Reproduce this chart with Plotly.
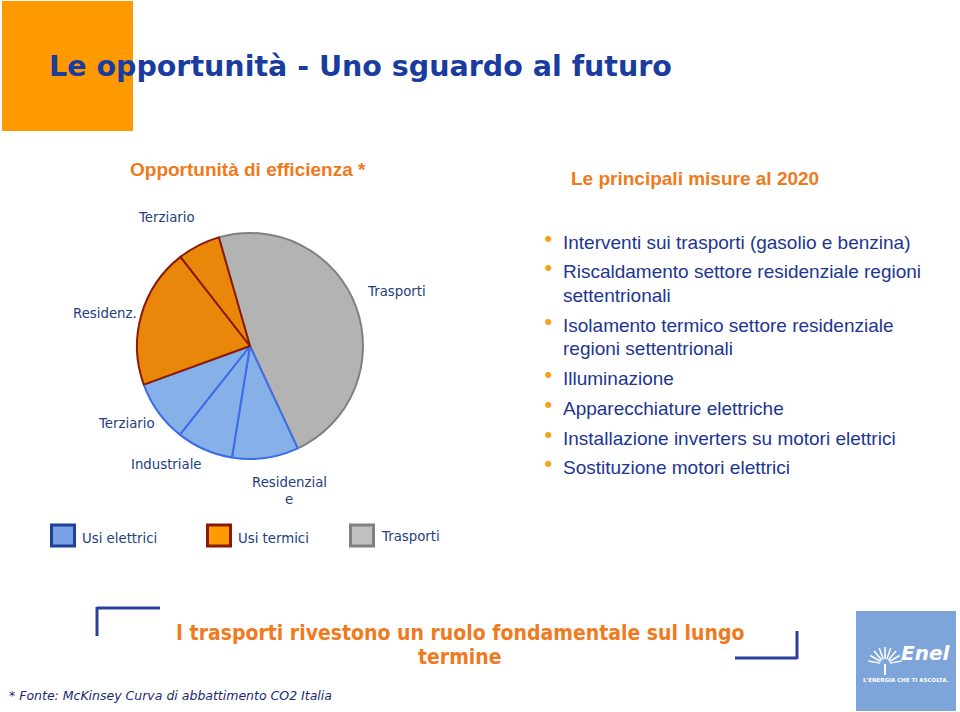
import plotly.graph_objects as go
import math

W, H = 960, 712

# ---- data ----
slice_ids = ["Trasporti", "Residenziale (el.)", "Industriale (el.)", "Terziario (el.)",
             "Residenz. (term.)", "Terziario (term.)"]
slice_labels = ["Trasporti", "Residenzial<br>e", "Industriale", "Terziario", "Residenz.", "Terziario"]
slice_groups = ["Trasporti", "Usi elettrici", "Usi elettrici", "Usi elettrici", "Usi termici", "Usi termici"]
slice_values = [47.5, 9.5, 8.1, 8.8, 20.0, 6.1]

legend_items = ["Usi elettrici", "Usi termici", "Trasporti"]

measures = [
    ["Interventi sui trasporti (gasolio e benzina)"],
    ["Riscaldamento settore residenziale regioni", "settentrionali"],
    ["Isolamento termico settore residenziale", "regioni settentrionali"],
    ["Illuminazione"],
    ["Apparecchiature elettriche"],
    ["Installazione inverters su motori elettrici"],
    ["Sostituzione motori elettrici"],
]

# ---- styles ----
fill = {"Usi elettrici": "#86b0e8", "Usi termici": "#ea860a", "Trasporti": "#b3b3b3"}
edge = {"Usi elettrici": "#3d6ce8", "Usi termici": "#8a1a05", "Trasporti": "#808080"}
legend_edge = {"Usi elettrici": "#1f3f9a", "Usi termici": "#8a1a05", "Trasporti": "#808080"}
legend_fill = {"Usi elettrici": "#7aa2e6", "Usi termici": "#ff9a00", "Trasporti": "#c0c0c0"}

NAVY = "#24407e"
ORANGE = "#ee7a1c"

def px(x):
    return x / W

def py(y):
    return 1 - y / H

fig = go.Figure()

cx, cy, r = 250, 346, 113
fig.add_trace(go.Pie(
    labels=slice_ids,
    values=slice_values,
    sort=False,
    direction="clockwise",
    rotation=-16,
    textinfo="none",
    hoverinfo="skip",
    showlegend=False,
    marker=dict(colors=[fill[g] for g in slice_groups],
                line=dict(color=[edge[g] for g in slice_groups], width=2)),
    domain=dict(x=[px(cx - r), px(cx + r)], y=[py(cy + r), py(cy - r)]),
))

annotations = []
shapes = []

def text(x, y, s, size, color, family="DejaVu Sans", xanchor="left", bold=False, italic=False, yanchor="middle"):
    if bold:
        s = "<b>" + s + "</b>"
    if italic:
        s = "<i>" + s + "</i>"
    annotations.append(dict(x=px(x), y=py(y), xref="paper", yref="paper", text=s, showarrow=False,
                            xanchor=xanchor, yanchor=yanchor,
                            font=dict(size=size, color=color, family=family)))

# orange square and title
shapes.append(dict(type="rect", xref="paper", yref="paper", x0=px(2), x1=px(133), y0=py(131), y1=py(1),
                   fillcolor="#ff9900", line=dict(width=0), layer="below"))
text(47, 66, "Le opportunità - Uno sguardo al futuro", 28.5, "#1a3c9e", bold=True)

# section titles
text(248, 170, "Opportunità di efficienza *", 19, ORANGE, family="Liberation Sans", xanchor="center", bold=True)
text(695, 179, "Le principali misure al 2020", 19, ORANGE, family="Liberation Sans", xanchor="center", bold=True)

# pie labels
label_pos = [(396, 291, "center"), (289, 482, "center"), (166, 465, "center"),
             (126, 423, "center"), (105, 313, "center"), (166, 217, "center")]
for lab, (lx, ly, anc) in zip(slice_labels, label_pos):
    if "<br>" in lab:
        a, b = lab.split("<br>")
        text(lx, ly, a, 13.3, NAVY, xanchor=anc)
        text(lx, ly + 17, b, 13.3, NAVY, xanchor=anc)
    else:
        text(lx, ly, lab, 13.3, NAVY, xanchor=anc)

# bullets
line_y = 242
for item in measures:
    annotations.append(dict(x=px(548), y=py(line_y - 4), xref="paper", yref="paper", text="●",
                            showarrow=False, xanchor="center", yanchor="middle",
                            font=dict(size=8, color="#f5a21a", family="DejaVu Sans")))
    for k, ln in enumerate(item):
        text(561, line_y, ln, 19, "#1d3592", family="Liberation Sans")
        line_y += 23.5 if k < len(item) - 1 else 0
    line_y += 29.8

# legend
leg_x = [50, 206, 349]
for name, lx in zip(legend_items, leg_x):
    shapes.append(dict(type="rect", xref="paper", yref="paper", x0=px(lx + 1.5), x1=px(lx + 24.5),
                       y0=py(546), y1=py(525), fillcolor=legend_fill[name],
                       line=dict(color=legend_edge[name], width=3)))
    text(lx + 30, 538 if name != "Trasporti" else 536, name, 13.3, NAVY)

# brackets
BR = "#2a3f9c"
shapes += [
    dict(type="line", xref="paper", yref="paper", x0=px(97), x1=px(160), y0=py(608), y1=py(608), line=dict(color=BR, width=3)),
    dict(type="line", xref="paper", yref="paper", x0=px(97), x1=px(97), y0=py(607), y1=py(636), line=dict(color=BR, width=3)),
    dict(type="line", xref="paper", yref="paper", x0=px(735), x1=px(797), y0=py(658), y1=py(658), line=dict(color=BR, width=3)),
    dict(type="line", xref="paper", yref="paper", x0=px(797), x1=px(797), y0=py(631), y1=py(659), line=dict(color=BR, width=3)),
]
text(460, 633, "I trasporti rivestono un ruolo fondamentale sul lungo", 21, "#f07a1e",
     family="DejaVu Sans Condensed", xanchor="center", bold=True)
text(460, 657, "termine", 21, "#f07a1e", family="DejaVu Sans Condensed", xanchor="center", bold=True)

# footnote
text(7, 695, "* Fonte: McKinsey Curva di abbattimento CO2 Italia", 12.5, "#1a2a70", italic=True)

# Enel logo
shapes.append(dict(type="rect", xref="paper", yref="paper", x0=px(856), x1=px(956), y0=py(711), y1=py(611),
                   fillcolor="#7da5d9", line=dict(width=0)))
fx, fy = 885, 664
for ang in range(-80, 81, 20):
    a = math.radians(ang)
    shapes.append(dict(type="line", xref="paper", yref="paper",
                       x0=px(fx + 5 * math.sin(a)), y0=py(fy - 5 * math.cos(a)),
                       x1=px(fx + 17 * math.sin(a)), y1=py(fy - 17 * math.cos(a)),
                       line=dict(color="white", width=1.5)))
shapes.append(dict(type="line", xref="paper", yref="paper", x0=px(fx), x1=px(fx), y0=py(fy), y1=py(fy + 11),
                   line=dict(color="white", width=2)))
text(925, 653, "Enel", 20, "white", family="DejaVu Sans", xanchor="center", bold=True, italic=True)
text(906, 680, "L'ENERGIA CHE TI ASCOLTA.", 5.5, "white", family="DejaVu Sans", xanchor="center", bold=True)

fig.update_layout(
    width=W, height=H,
    margin=dict(l=0, r=0, t=0, b=0),
    paper_bgcolor="white", plot_bgcolor="white",
    annotations=annotations, shapes=shapes,
    showlegend=False,
)

fig.write_html("out.html")
